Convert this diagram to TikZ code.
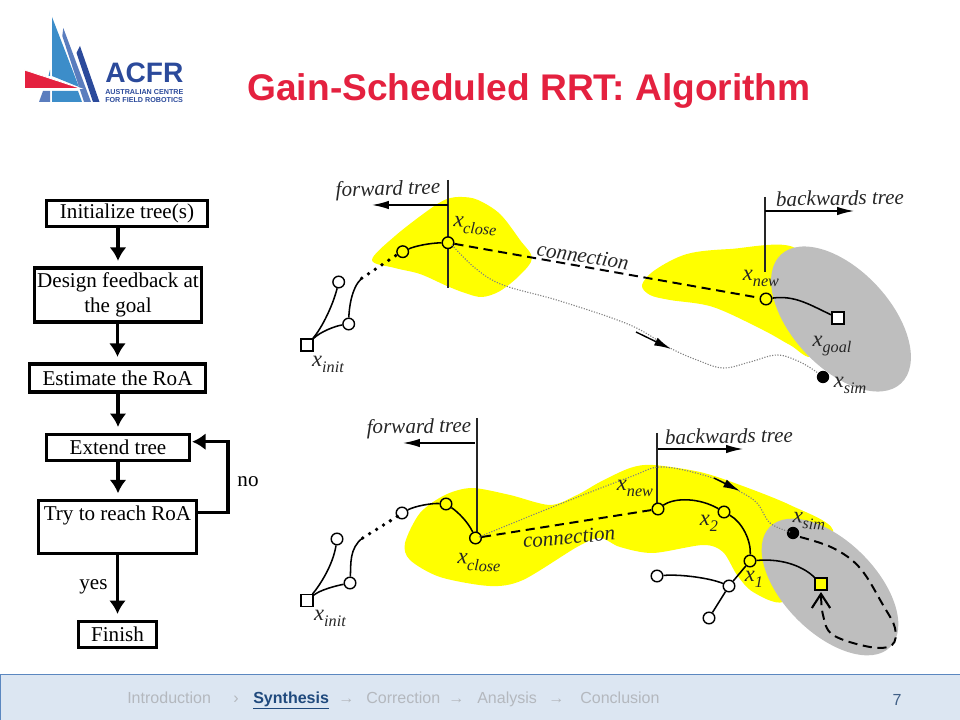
\documentclass[tikz,border=0pt]{standalone}
\usepackage{fontspec}
\setmainfont{Liberation Serif}
\newfontfamily\slideSans{Liberation Sans}
\usetikzlibrary{arrows.meta}
\definecolor{acfrRed}{HTML}{E4213F}
\definecolor{acfrSky}{HTML}{3C8DC9}
\definecolor{acfrMid}{HTML}{5A7DBE}
\definecolor{acfrDark}{HTML}{2B4A9B}
\definecolor{footFill}{HTML}{DCE6F2}
\definecolor{footLine}{HTML}{5B87C0}
\definecolor{footText}{HTML}{B4B8BE}
\definecolor{footBold}{HTML}{1F497D}
\definecolor{regionYellow}{HTML}{FFFF00}
\definecolor{regionGray}{HTML}{BEBEBE}
\newcommand{\treeLabel}[2]{{\fontsize{16}{16}\selectfont\itshape x}\raisebox{-0.42em}{\fontsize{11.5}{12}\selectfont\itshape #2}}
\begin{document}
\begin{tikzpicture}
[x=0.025cm,y=-0.025cm,
flowBox/.style={draw=black,line width=2.2pt,inner sep=0pt,align=center,font=\fontsize{15}{18}\selectfont},
flowLabel/.style={font=\fontsize{15}{18}\selectfont},
flowEdge/.style={line width=2.5pt,-{Latex[length=9.5pt,width=12pt]},shorten >=4pt},
loopEdge/.style={line width=2.5pt,-{Latex[length=9.5pt,width=12pt]},shorten >=1pt},
vertex/.style={circle,minimum size=0.29cm,inner sep=0pt,draw=black,line width=1pt,fill=white},
yellowVertex/.style={vertex,fill=regionYellow},
squareVertex/.style={rectangle,minimum size=0.3cm,inner sep=0pt,draw=black,line width=1pt,fill=white},
simVertex/.style={circle,minimum size=0.31cm,inner sep=0pt,fill=black},
edge/.style={line width=1.1pt},
guide/.style={line width=1.1pt,black!85},
guideArrow/.style={line width=1pt,-{Latex[length=12pt,width=6pt]}},
dotLink/.style={line width=2.7pt,line cap=round,dash pattern=on 0pt off 5.8pt},
connection/.style={line width=1.4pt,dash pattern=on 6.5pt off 4pt},
simPath/.style={line width=0.8pt,black!50,dash pattern=on 0.8pt off 1.1pt},
treeText/.style={font=\fontsize{15}{18}\selectfont\itshape,text=black!85},
pointText/.style={text=black!85,inner sep=0pt},
footNote/.style={font=\slideSans\fontsize{11.4}{13}\selectfont,text=footText,anchor=base west,inner sep=0pt},
logoSmall/.style={font=\slideSans\bfseries\fontsize{5.1}{6}\selectfont,text=acfrDark,anchor=west,inner sep=0pt}]
\useasboundingbox (0,0) rectangle (960,720);

\fill[acfrSky] (52,17) -- (79,87) -- (52,76) -- cycle;
\fill[acfrMid] (63.3,28) -- (91,102) -- (84,102) -- (62.3,36) -- cycle;
\fill[acfrDark] (80,46) -- (99.5,102) -- (93,102) -- (76.5,53) -- cycle;
\fill[acfrMid] (39,102) -- (50,102) -- (50,91) -- (43,91) -- cycle;
\fill[acfrSky] (52,91) -- (52,102) -- (82,102) -- (78,91) -- cycle;
\fill[acfrSky] (48.5,76) -- (50,70) -- (50,76) -- cycle;
\filldraw[fill=acfrRed,draw=white,line width=0.6pt] (24.5,70) -- (24.5,88.5) -- (81,88.5) -- cycle;
\node[font=\slideSans\bfseries\fontsize{20}{22}\selectfont,text=acfrDark,anchor=west,inner sep=0pt] (logoName) at (105,73) {ACFR};
\node[logoSmall] (logoLine1) at (105,92) {AUSTRALIAN CENTRE};
\node[logoSmall] (logoLine2) at (105,100) {FOR FIELD ROBOTICS};
\node[font=\slideSans\bfseries\fontsize{26.4}{29}\selectfont,text=acfrRed] (title) at (529,91) {Gain-Scheduled RRT: Algorithm};

\node[flowBox,minimum width=4.02cm,minimum height=0.67cm] (init) at (127,213.5) {Initialize tree(s)};
\node[flowBox,minimum width=4.19cm,minimum height=1.35cm] (design) at (118,295) {Design feedback at\\the goal};
\node[flowBox,minimum width=4.42cm,minimum height=0.7cm] (estimate) at (117.5,378) {Estimate the RoA};
\node[flowBox,minimum width=3.56cm,minimum height=0.67cm] (extend) at (118,447.5) {Extend tree};
\node[flowBox,minimum width=3.97cm,minimum height=1.33cm] (try) at (117.5,527) {};
\node[flowLabel] (tryText) at (117.5,515) {Try to reach RoA};
\node[flowBox,minimum width=1.97cm,minimum height=0.67cm] (finish) at (117.5,634.5) {Finish};
\node[flowLabel] (no) at (248,482) {no};
\node[flowLabel] (yes) at (93.5,587) {yes};
\coordinate (loopA) at (228,512.7);
\coordinate (loopB) at (228,441.7);
\draw[flowEdge] (design.north |- init.south) -- (design.north);
\draw[flowEdge] (estimate.north |- design.south) -- (estimate.north);
\draw[flowEdge] (estimate.south -| extend.north) -- (extend.north);
\draw[flowEdge] (extend.south) -- (try.north -| extend.south);
\draw[flowEdge] (try.south) -- (finish.north);
\draw[loopEdge,line join=miter] (loopA -| try.east) -- (loopA) -- (loopB) -- (loopB -| extend.east);

\fill[regionYellow] plot[smooth cycle,tension=0.55] coordinates {(372,260) (395,236) (430,209) (447,199) (462,197) (478,200) (500,214) (520,240) (532,258) (520,275) (500,291) (482,297) (465,293) (447,286) (420,274) (395,268)};
\fill[regionYellow] plot[smooth cycle,tension=0.55] coordinates {(642,285) (655,270) (687,254) (730,249) (795,248) (815,300) (812,355) (790,345) (763,330) (713,307) (670,300) (650,295)};
\fill[regionGray,rotate around={-47:(841,319)}] (841,319) ellipse [x radius=88,y radius=49];
\draw[guide] (448,180) -- (448,288);
\draw[guide] (765,197) -- (765,272);
\coordinate (forwardA) at (448,205);
\coordinate (forwardB) at (372,205);
\coordinate (backA) at (765,211);
\coordinate (backB) at (854,211);
\draw[guideArrow] (forwardA) -- (forwardB);
\draw[guideArrow] (backA) -- (backB);

\node[squareVertex] (a1) at (307,345) {};
\node[vertex] (a2) at (338.7,282) {};
\node[vertex] (a3) at (348.7,324) {};
\node[yellowVertex] (a4) at (402.7,251.7) {};
\node[yellowVertex] (a5) at (448,242.7) {};
\node[yellowVertex] (a6) at (766,299) {};
\node[squareVertex] (a7) at (838,318) {};
\node[simVertex] (a8) at (823,377) {};
\coordinate (a9) at (361.7,278.3);
\coordinate (a10) at (396.7,255);
\draw[edge] (a1) .. controls (322,328) and (333,305) .. (a2);
\draw[edge] (a1) .. controls (320,332) and (335,326) .. (a3);
\draw[edge] (a3) .. controls (349,310) and (351,288) .. (a9);
\draw[dotLink] (a9) -- (a10);
\draw[edge] (a4) .. controls (415,246) and (430,243) .. (a5);
\draw[edge] (a6) .. controls (795,295) and (810,305) .. (a7);
\draw[connection] (a5) -- (a6);
\draw[simPath] plot[smooth,tension=0.6] coordinates {(452,245) (475,268) (503,285) (560,301) (630,325) (670,348) (697,360) (723,368) (750,362) (777,355) (800,362) (818,373)};
\coordinate (a11) at (636,332);
\coordinate (a12) at (671,349);
\draw[guideArrow] (a11) -- (a12);

\node[treeText,rotate=2] (forward1) at (388,190) {forward tree};
\node[treeText,rotate=1] (backward1) at (840,198) {backwards tree};
\node[treeText,rotate=-9] (connection1) at (583,256) {connection};
\node[pointText,rotate=-4] (close1) at (475,226) {\treeLabel{x}{close}};
\node[pointText] (init1) at (328,364) {\treeLabel{x}{init}};
\node[pointText] (new1) at (761,278) {\treeLabel{x}{new}};
\node[pointText] (goal1) at (832,346) {\treeLabel{x}{goal}};
\node[pointText] (sim1) at (850,385) {\treeLabel{x}{sim}};

\fill[regionYellow] plot[smooth cycle,tension=0.5] coordinates {(405,543) (420,513) (445,495) (472,488) (510,495) (550,505) (577,495) (600,482) (630,468) (653,465) (700,472) (740,485) (790,505) (833,530) (810,570) (783,602) (753,592) (737,575) (723,552) (703,545) (653,553) (620,547) (600,538) (577,547) (523,580) (490,586) (440,577) (410,560)};
\fill[regionGray,rotate around={-45:(830,587)}] (830,587) ellipse [x radius=85,y radius=46];
\draw[guide] (477,418) -- (477,538);
\draw[guide] (657,433) -- (657,509);
\coordinate (forwardC) at (475,443);
\coordinate (forwardD) at (403,443);
\coordinate (backC) at (658,449);
\coordinate (backD) at (743,449);
\draw[guideArrow] (forwardC) -- (forwardD);
\draw[guideArrow] (backC) -- (backD);

\node[squareVertex] (b1) at (307,600.7) {};
\node[vertex] (b2) at (337,539) {};
\node[vertex] (b3) at (350,583) {};
\node[vertex] (b4) at (402,513) {};
\node[yellowVertex] (b5) at (446,504) {};
\node[yellowVertex] (b6) at (475.5,538) {};
\node[yellowVertex] (b7) at (658,509) {};
\node[yellowVertex] (b8) at (724,512) {};
\node[yellowVertex] (b9) at (750,561) {};
\node[vertex] (b10) at (729,586) {};
\node[vertex] (b11) at (657,576) {};
\node[vertex] (b12) at (709,618) {};
\node[squareVertex,fill=regionYellow] (b13) at (821,584) {};
\node[simVertex] (b14) at (793,533) {};
\coordinate (b15) at (362.7,538);
\coordinate (b16) at (398,516);
\draw[edge] (b1) .. controls (320,585) and (333,565) .. (b2);
\draw[edge] (b1) .. controls (320,590) and (335,586) .. (b3);
\draw[edge] (b3) .. controls (351,565) and (349,548) .. (b15);
\draw[dotLink] (b15) -- (b16);
\draw[edge] (b4) .. controls (415,506) and (432,503) .. (b5);
\draw[edge] (b5) .. controls (458,512) and (468,522) .. (b6);
\draw[edge] (b7) .. controls (675,497) and (700,498) .. (b8);
\draw[edge] (b8) .. controls (742,522) and (751,540) .. (b9);
\draw[edge] (b9) -- (b10);
\draw[edge] (b10) -- (b12);
\draw[edge] (b11) .. controls (680,574) and (710,578) .. (b10);
\draw[edge] (b9) .. controls (785,558) and (805,568) .. (b13);
\draw[connection] (b6) -- (b7);
\draw[simPath] plot[smooth,tension=0.6] coordinates {(479,537) (550,508) (630,477) (663,467) (713,478) (739,491) (757,503) (770,523) (790,532)};
\coordinate (b17) at (714,478);
\coordinate (b18) at (740,491);
\draw[guideArrow] (b17) -- (b18);
\draw[connection,-{Straight Barb[length=10pt,width=13pt,line width=1.5pt]}] plot[smooth,tension=0.6] coordinates {(800,537) (833,548) (860,568) (883,605) (895,628) (892,645) (870,647) (833,635) (823,615) (821,592)};

\node[treeText,rotate=1] (forward2) at (419,428) {forward tree};
\node[treeText,rotate=1] (backward2) at (729,436) {backwards tree};
\node[treeText,rotate=5] (connection2) at (569,537) {connection};
\node[pointText,rotate=-3] (close2) at (479,563) {\treeLabel{x}{close}};
\node[pointText] (init2) at (330,618) {\treeLabel{x}{init}};
\node[pointText] (new2) at (635,488) {\treeLabel{x}{new}};
\node[pointText] (two2) at (709,523) {\treeLabel{x}{2}};
\node[pointText] (one2) at (754,579) {\treeLabel{x}{1}};
\node[pointText,rotate=-3] (sim2) at (809,521) {\treeLabel{x}{sim}};

\fill[footFill] (0,674.5) rectangle (960,720);
\draw[footLine,line width=0.8pt] (0.5,720) -- (0.5,674.5) -- (960,674.5);
\node[footNote] (introduction) at (127,703) {Introduction};
\node[footNote] (sep1) at (233,703) {›};
\node[footNote,font=\slideSans\bfseries\fontsize{11.4}{13}\selectfont,text=footBold] (synthesis) at (253,703) {\underline{Synthesis}};
\node[footNote] (sep2) at (338,703) {→};
\node[footNote] (correction) at (366,703) {Correction};
\node[footNote] (sep3) at (448,703) {→};
\node[footNote] (analysis) at (477,703) {Analysis};
\node[footNote] (sep4) at (548,703) {→};
\node[footNote] (conclusion) at (580,703) {Conclusion};
\node[font=\slideSans\fontsize{11.4}{13}\selectfont,text=footLine!70!black,inner sep=0pt] (pageNo) at (897,700) {7};
\end{tikzpicture}
\end{document}
